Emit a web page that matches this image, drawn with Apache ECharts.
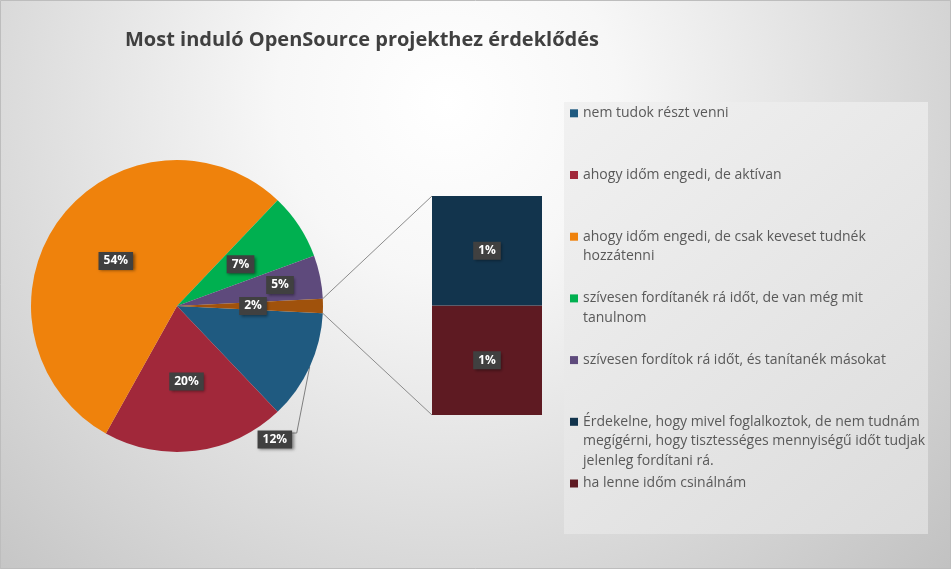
<!DOCTYPE html>
<html><head><meta charset="utf-8">
<script src="https://cdn.jsdelivr.net/npm/echarts@6/dist/echarts.min.js"></script>
<style>html,body{margin:0;padding:0;background:#fff}#c{width:951px;height:569px}</style>
</head><body><div id="c"></div>
<script>
// ---------- DATA ----------
const chartTitle = 'Most induló OpenSource projekthez érdeklődés';
const pieCategories = [
  'nem tudok részt venni',
  'ahogy időm engedi, de aktívan',
  'ahogy időm engedi, de csak keveset tudnék hozzátenni',
  'szívesen fordítanék rá időt, de van még mit tanulnom',
  'szívesen fordítok rá időt, és tanítanék másokat'
];
const pieValues = [12.1, 20.2, 54.0, 7.3, 4.8];
const barCategories = [
  'Érdekelne, hogy mivel foglalkoztok, de nem tudnám megígérni, hogy tisztességes mennyiségű időt tudjak jelenleg fordítani rá.',
  'ha lenne időm csinálnám'
];
const barValues = [0.8, 0.8];
const otherName = 'Egyéb';
const legendLabelLines = [
  ['nem tudok részt venni'],
  ['ahogy időm engedi, de aktívan'],
  ['ahogy időm engedi, de csak keveset tudnék', 'hozzátenni'],
  ['szívesen fordítanék rá időt, de van még mit', 'tanulnom'],
  ['szívesen fordítok rá időt, és tanítanék másokat'],
  ['Érdekelne, hogy mivel foglalkoztok, de nem tudnám', 'megígérni, hogy tisztességes mennyiségű időt tudjak', 'jelenleg fordítani rá.'],
  ['ha lenne időm csinálnám']
];

// ---------- STYLE / LAYOUT ----------
const pieColors = ['#1F5A80', '#A1283A', '#EF820C', '#00B050', '#5E4A7C'];
const otherColor = '#A0520C';
const barColors = ['#12344D', '#5E1A22'];
const FONT = '"Open Sans", "Noto Sans", sans-serif';
const CX = 177, CY = 306, R = 146;
const GRID = {left: 432, top: 196, width: 110, height: 219};
const LEG = {left: 570, firstIconY: 113.3, step: 61.7, lineH: 19.5, box: {x: 564, y: 102, w: 364, h: 432}};

const chart = echarts.init(document.getElementById('c'), null, {renderer: 'canvas'});
const otherVal = barValues.reduce((a, b) => a + b, 0);
const total = pieValues.reduce((a, b) => a + b, 0) + otherVal;
const otherDeg = otherVal / total * 360;
const startAngle = -otherDeg / 2;
function pct(v) { return Math.round(v / total * 100) + '%'; }
function midAngle(i) {
  let acc = 0;
  for (let k = 0; k < i; k++) acc += pieValues[k];
  acc += pieValues[i] / 2;
  return (-startAngle + acc / total * 360) * Math.PI / 180;
}

const lbl = {
  show: true, color: '#FFFFFF', fontWeight: 'bold', fontSize: 12, fontFamily: FONT,
  backgroundColor: '#404040', padding: [3, 5, 3, 5],
  shadowColor: 'rgba(0,0,0,0.45)', shadowBlur: 3, shadowOffsetX: 1.5, shadowOffsetY: 1.5
};

const pieData = pieCategories.map((n, i) => ({name: n, value: pieValues[i], itemStyle: {color: pieColors[i]}}));
pieData[0].label = {position: 'outside'};
pieData[0].labelLine = {show: true, lineStyle: {color: '#7F7F7F', width: 1}};
pieData.push({name: otherName, value: otherVal, itemStyle: {color: otherColor}});

const legendNames = pieCategories.concat(barCategories);
const legends = legendNames.map((name, i) => {
  const lines = legendLabelLines[i];
  const n = lines.length;
  const iconY = LEG.firstIconY + i * LEG.step;
  return {
    data: [name], orient: 'vertical', left: LEG.left, top: iconY - (2 * n - 1) * LEG.lineH / 2,
    icon: 'rect', itemWidth: 8, itemHeight: 8, selectedMode: false, padding: 0,
    formatter: () => '\n'.repeat(n - 1) + lines.join('\n'),
    textStyle: {color: '#595959', fontSize: 14, fontFamily: FONT, lineHeight: LEG.lineH}
  };
});

const aHalf = otherDeg / 2 * Math.PI / 180;
const edgeX = CX + R * Math.cos(aHalf);

chart.setOption({
  animation: false,
  backgroundColor: {
    type: 'radial', x: 0.47, y: 0.18, r: 1.2,
    colorStops: [{offset: 0, color: '#FFFFFF'}, {offset: 0.25, color: '#F7F7F7'}, {offset: 1, color: '#C2C2C2'}]
  },
  title: {
    text: chartTitle, left: 120, top: 25,
    textStyle: {fontFamily: FONT, fontSize: 20, fontWeight: 'bold', color: '#404040'}
  },
  legend: legends,
  grid: {left: GRID.left, top: GRID.top, width: GRID.width, height: GRID.height},
  xAxis: {type: 'category', data: [''], show: false},
  yAxis: {type: 'value', min: 0, max: otherVal, show: false},
  graphic: [
    {type: 'rect', z: 0, shape: {x: LEG.box.x, y: LEG.box.y, width: LEG.box.w, height: LEG.box.h},
     style: {fill: {type: 'linear', x: 0, y: 0, x2: 1, y2: 1,
       colorStops: [{offset: 0, color: '#F1F1F1'}, {offset: 1, color: '#DCDCDC'}]}}},
    {type: 'line', z: 1, shape: {x1: edgeX, y1: CY - R * Math.sin(aHalf), x2: GRID.left, y2: GRID.top},
     style: {stroke: '#8C8C8C', lineWidth: 1}},
    {type: 'line', z: 1, shape: {x1: edgeX, y1: CY + R * Math.sin(aHalf), x2: GRID.left, y2: GRID.top + GRID.height},
     style: {stroke: '#8C8C8C', lineWidth: 1}},
    {type: 'rect', z: 10, silent: true, shape: {x: 0.5, y: 0.5, width: 950, height: 568},
     style: {fill: 'none', stroke: '#BDBDBD', lineWidth: 1}}
  ],
  series: [
    {
      type: 'pie', center: [CX, CY], radius: R, startAngle: startAngle, clockwise: true,
      avoidLabelOverlap: false, emphasis: {disabled: true},
      label: Object.assign({}, lbl, {position: 'inside', formatter: p => pct(p.value)}),
      labelLine: {show: false},
      labelLayout: function (p) {
        const i = p.dataIndex;
        if (i === 4) {
          const m = midAngle(4);
          return {x: CX + 0.72 * R * Math.cos(m), y: CY + 0.72 * R * Math.sin(m), align: 'center', verticalAlign: 'middle'};
        }
        if (i === 0) {
          const m = midAngle(0);
          const ex = CX + R * Math.cos(m), ey = CY + R * Math.sin(m);
          const lx = CX + 0.67 * R, ly = CY + 0.915 * R;
          const bx = CX + 0.82 * R, by = CY + 0.87 * R;
          const hw = p.labelRect.width / 2;
          return {x: lx, y: ly, align: 'center', verticalAlign: 'middle',
                  labelLinePoints: [[ex, ey], [bx, by], [lx + hw, by]]};
        }
      },
      data: pieData
    },
    {
      type: 'bar', name: barCategories[1], stack: 'b', barWidth: '100%', barCategoryGap: 0,
      itemStyle: {color: barColors[1]}, emphasis: {disabled: true},
      label: Object.assign({}, lbl, {position: 'inside', formatter: p => pct(p.value)}),
      data: [barValues[1]]
    },
    {
      type: 'bar', name: barCategories[0], stack: 'b', barWidth: '100%', barCategoryGap: 0,
      itemStyle: {color: barColors[0]}, emphasis: {disabled: true},
      label: Object.assign({}, lbl, {position: 'inside', formatter: p => pct(p.value)}),
      data: [barValues[0]]
    }
  ]
});
</script>
</body></html>
